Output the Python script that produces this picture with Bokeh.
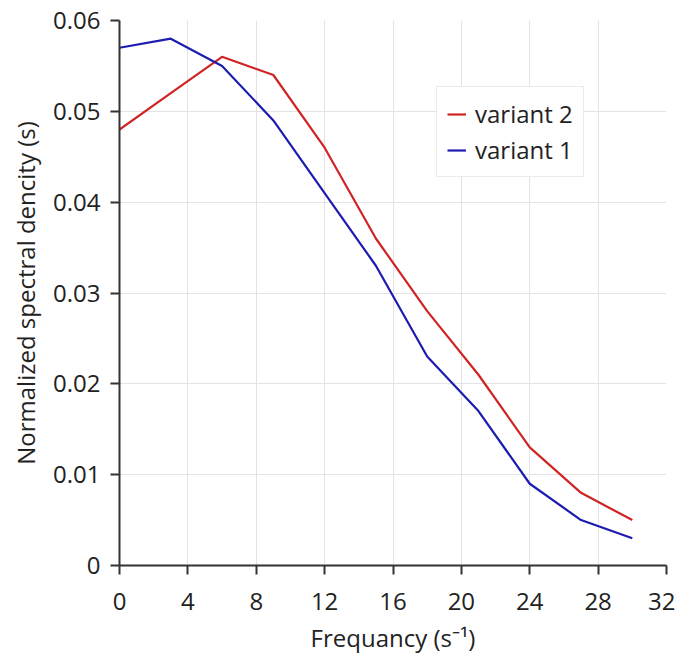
from bokeh.plotting import figure
from bokeh.models import FixedTicker, Legend, LegendItem, Range1d
from bokeh.embed import file_html
from bokeh.resources import INLINE

freq = [0, 3, 6, 9, 12, 15, 18, 21, 24, 27, 30]
variant2 = [0.048, 0.052, 0.056, 0.054, 0.046, 0.036, 0.028, 0.021, 0.013, 0.008, 0.005]
variant1 = [0.057, 0.058, 0.055, 0.049, 0.041, 0.033, 0.023, 0.017, 0.009, 0.005, 0.003]
x_ticks = [0, 4, 8, 12, 16, 20, 24, 28, 32]
y_ticks = [0, 0.01, 0.02, 0.03, 0.04, 0.05, 0.06]
y_labels = ["0", "0.01", "0.02", "0.03", "0.04", "0.05", "0.06"]

FONT = "Open Sans"

p = figure(width=675, height=656, output_backend="svg", toolbar_location=None,
           x_range=Range1d(0, 32), y_range=Range1d(0, 0.06),
           min_border_left=119, min_border_right=9, min_border_top=20, min_border_bottom=83)
p.outline_line_color = None
p.background_fill_color = "white"

r2 = p.line(freq, variant2, line_color="#d02424", line_width=2.2)
r1 = p.line(freq, variant1, line_color="#1c1cb0", line_width=2.2)

for ax in (p.xaxis[0], p.yaxis[0]):
    ax.axis_line_color = "#333333"
    ax.axis_line_width = 2
    ax.major_tick_line_color = "#333333"
    ax.major_tick_line_width = 2
    ax.major_tick_out = 9
    ax.major_tick_in = 0
    ax.minor_tick_line_color = None
    ax.major_label_text_font = FONT
    ax.major_label_text_font_size = "24px"
    ax.major_label_text_color = "#222222"
    ax.axis_label_text_font = FONT
    ax.axis_label_text_font_size = "24px"
    ax.axis_label_text_font_style = "normal"
    ax.axis_label_text_color = "#222222"

p.xaxis.ticker = FixedTicker(ticks=x_ticks)
p.yaxis.ticker = FixedTicker(ticks=y_ticks)
p.yaxis.major_label_overrides = {t: l for t, l in zip(y_ticks, y_labels)}
p.xaxis.axis_label = "Frequancy (s\u207b\u00b9)"
p.yaxis.axis_label = "Normalized spectral dencity (s)"
p.xaxis.major_label_standoff = 18
p.yaxis.major_label_standoff = 10
p.xaxis.axis_label_standoff = 8
p.yaxis.axis_label_standoff = 8

p.grid.grid_line_color = "#e3e3e3"
p.grid.grid_line_width = 1

legend = Legend(items=[LegendItem(label="variant 2", renderers=[r2]),
                       LegendItem(label="variant 1", renderers=[r1])],
                location=(317, 388))
legend.label_text_font = FONT
legend.label_text_font_size = "24px"
legend.label_text_color = "#222222"
legend.border_line_color = "#d8d8d8"
legend.border_line_width = 1
legend.glyph_width = 19
legend.label_standoff = 9
legend.spacing = 3
legend.padding = 10
legend.margin = 0
p.add_layout(legend, "center")

open("out.html", "w").write(file_html(p, INLINE))
